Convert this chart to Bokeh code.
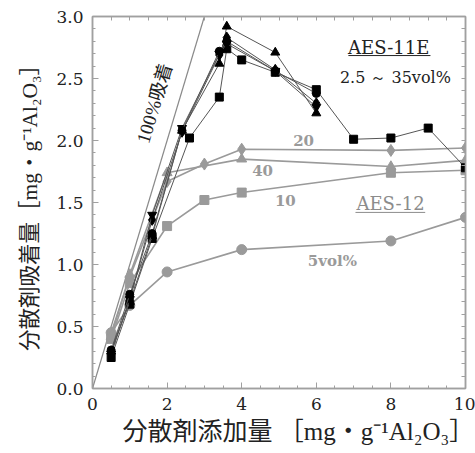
from bokeh.plotting import figure
from bokeh.models import Range1d, FixedTicker, LinearAxis, Label, PrintfTickFormatter, Title
from bokeh.embed import file_html
from bokeh.resources import INLINE

# ---------------- data ----------------
# 100 % adsorption reference line (adsorbed = added)
ref_x = [0, 3.0]
ref_y = [0, 3.0]

# AES-11E (2.5 - 35 vol%), black symbols
e_sq_x = [0.5, 1.0, 1.6, 2.6, 3.4, 3.6, 4.0, 4.9, 6.0, 7.0, 8.0, 9.0, 10.0]
e_sq_y = [0.25, 0.68, 1.21, 2.02, 2.35, 2.74, 2.65, 2.55, 2.41, 2.01, 2.02, 2.10, 1.78]

e_x = [0.5, 1.0, 1.6, 2.4, 3.4, 3.6, 4.9, 6.0]
e_tri_y = [0.30, 0.70, 1.23, 2.08, 2.62, 2.92, 2.71, 2.22]
e_dia_y = [0.30, 0.72, 1.36, 2.07, 2.69, 2.83, 2.57, 2.30]
e_inv_y = [0.28, 0.72, 1.40, 2.10, 2.70, 2.78, 2.56, 2.27]
e_cir_y = [0.31, 0.76, 1.25, 2.08, 2.72, 2.80, 2.56, 2.38]

# AES-12, grey symbols
a5_x = [0.5, 1.0, 2.0, 4.0, 8.0, 10.0]
a5_y = [0.45, 0.67, 0.94, 1.12, 1.19, 1.38]
a10_x = [0.5, 1.0, 2.0, 3.0, 4.0, 8.0, 10.0]
a10_y = [0.40, 0.85, 1.31, 1.52, 1.58, 1.74, 1.76]
a20_x = [0.5, 1.0, 2.0, 3.0, 4.0, 8.0, 10.0]
a20_y = [0.45, 0.90, 1.67, 1.81, 1.93, 1.92, 1.94]
a40_x = [0.5, 1.0, 2.0, 4.0, 8.0, 10.0]
a40_y = [0.42, 0.92, 1.74, 1.85, 1.79, 1.84]

x_ticks = [0, 2, 4, 6, 8, 10]
y_ticks = [0.0, 0.5, 1.0, 1.5, 2.0, 2.5, 3.0]
x_minor = [i * 0.5 for i in range(21)]
y_minor = [i * 0.1 for i in range(31)]

x_label = "分散剤添加量 ［mg・g⁻¹Al₂O₃］"
y_label = "分散剤吸着量［mg・g⁻¹Al₂O₃］"

# ---------------- styles ----------------
GREY = "#9a9a9a"
FRAME = "#a0a0a0"
DARK = "#222222"
SERIF = "DejaVu Serif"
MIXED = "'Liberation Serif', 'Noto Sans CJK JP'"

p = figure(width=475, height=453, output_backend="svg", toolbar_location=None,
           x_range=Range1d(0, 10), y_range=Range1d(0, 3),
           min_border_left=92, min_border_right=10, min_border_top=16,
           min_border_bottom=65)
p.background_fill_color = "white"
p.border_fill_color = "white"
p.outline_line_color = FRAME
p.outline_line_width = 1.5
p.xgrid.visible = False
p.ygrid.visible = False


def style_axis(ax, show_labels):
    ax.axis_line_color = FRAME
    ax.axis_line_width = 1.5
    ax.major_tick_line_color = FRAME
    ax.minor_tick_line_color = FRAME
    ax.major_tick_in = 6
    ax.major_tick_out = 0
    ax.minor_tick_in = 3
    ax.minor_tick_out = 0
    if show_labels:
        ax.major_label_text_font = SERIF
        ax.major_label_text_font_size = "17px"
        ax.major_label_text_color = DARK
        ax.major_label_standoff = 9
        ax.axis_label_text_font = MIXED
        ax.axis_label_text_font_style = "normal"
        ax.axis_label_text_color = DARK
    else:
        ax.minor_tick_in = 4


p.xaxis.ticker = FixedTicker(ticks=x_ticks, minor_ticks=x_minor)
p.yaxis.ticker = FixedTicker(ticks=y_ticks, minor_ticks=y_minor)
p.yaxis.formatter = PrintfTickFormatter(format="%.1f")
p.yaxis.axis_label = y_label
style_axis(p.xaxis[0], True)
style_axis(p.yaxis[0], True)
p.yaxis.axis_label_text_font_size = "21.5px"
p.yaxis.axis_label_standoff = 11

# x axis title, placed below the axis and offset to the right like the original
xt = Title(text=x_label, align="left", offset=30, text_font=MIXED,
           text_font_size="25px", text_font_style="normal", text_color=DARK,
           standoff=6)
p.add_layout(xt, "below")

# top and right frame ticks (no labels)
top = LinearAxis(ticker=FixedTicker(ticks=[], minor_ticks=x_minor))
right = LinearAxis(ticker=FixedTicker(ticks=[], minor_ticks=y_minor))
style_axis(top, False)
style_axis(right, False)
p.add_layout(top, "above")
p.add_layout(right, "right")

# reference line
p.line(ref_x, ref_y, line_color="#8a8a8a", line_width=1.2)

# grey AES-12 series
for xs, ys, mk, sz in [(a5_x, a5_y, "circle", 10), (a10_x, a10_y, "square", 9),
                       (a20_x, a20_y, "diamond", 12), (a40_x, a40_y, "triangle", 10)]:
    p.line(xs, ys, line_color=GREY, line_width=1.6)
    p.scatter(xs, ys, marker=mk, size=sz, fill_color=GREY, line_color=GREY)

# black AES-11E series
for xs, ys, mk, sz in [(e_sq_x, e_sq_y, "square", 8), (e_x, e_tri_y, "triangle", 9),
                       (e_x, e_dia_y, "diamond", 11), (e_x, e_inv_y, "inverted_triangle", 9),
                       (e_x, e_cir_y, "circle", 8)]:
    p.line(xs, ys, line_color="#555555", line_width=1.0)
    p.scatter(xs, ys, marker=mk, size=sz, fill_color="black", line_color="black")

# ---------------- annotations ----------------
def lab(x, y, text, size, color, style="normal", font=SERIF, angle=0.0):
    p.add_layout(Label(x=x, y=y, text=text, text_font=font, text_font_size=size,
                       text_color=color, text_font_style=style, text_align="center",
                       text_baseline="middle", angle=angle))

lab(7.94, 2.75, "AES-11E", "18px", DARK)
p.line([6.86, 9.06], [2.685, 2.685], line_color=DARK, line_width=1)
lab(8.12, 2.51, "2.5 ～ 35vol%", "16px", DARK)
lab(7.99, 1.49, "AES-12", "18px", "#8c8c8c")
p.line([7.05, 8.92], [1.42, 1.42], line_color="#8c8c8c", line_width=1)
lab(5.66, 2.00, "20", "15px", GREY, "bold")
lab(4.56, 1.76, "40", "15px", GREY, "bold")
lab(5.17, 1.52, "10", "15px", GREY, "bold")
lab(6.43, 1.03, "5vol%", "15px", GREY, "bold")
lab(1.66, 2.30, "100%吸着", "19px", DARK, font=MIXED, angle=1.28)

open("out.html", "w").write(file_html(p, INLINE))
